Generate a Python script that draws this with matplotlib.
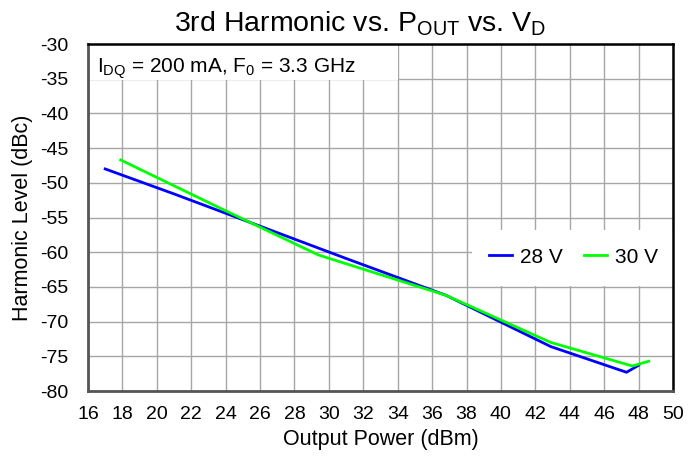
import matplotlib
matplotlib.use("Agg")
import matplotlib.pyplot as plt
from matplotlib.patches import Rectangle

# Output power (dBm) and 3rd harmonic level (dBc) for each drain voltage
pout_28v = [17.0, 21.0, 25.2, 31.0, 36.8, 42.9, 47.3, 48.0]
harm_28v = [-48.0, -51.6, -55.5, -60.9, -66.2, -73.6, -77.3, -76.3]
pout_30v = [17.9, 23.9, 29.4, 36.8, 42.9, 47.65, 48.6]
harm_30v = [-46.7, -53.9, -60.4, -66.2, -73.0, -76.4, -75.7]

x_ticks = list(range(16, 51, 2))
y_ticks = list(range(-80, -29, 5))

plt.rcParams['font.family'] = ['Liberation Sans', 'DejaVu Sans']
plt.rcParams['mathtext.fontset'] = 'custom'
plt.rcParams['mathtext.rm'] = 'Liberation Sans'
plt.rcParams['mathtext.it'] = 'Liberation Sans:italic'
plt.rcParams['axes.unicode_minus'] = False

fig = plt.figure(figsize=(7, 4.57), dpi=100)
ax = fig.add_axes([0.1257, 0.1444, 0.8357, 0.7593])

ax.plot(pout_28v, harm_28v, color='#0000ff', lw=2, label='28 V', zorder=4)
ax.plot(pout_30v, harm_30v, color='#00ff00', lw=2, label='30 V', zorder=4)

ax.set_xlim(16, 50)
ax.set_ylim(-80, -30)
ax.set_xticks(x_ticks)
ax.set_yticks(y_ticks)
ax.grid(True, color='#a6a6a6', lw=1)
ax.set_axisbelow(True)
ax.tick_params(length=0, labelsize=14)
ax.tick_params(axis='y', pad=14)
ax.tick_params(axis='x', pad=11)

for side in ['left', 'bottom']:
    ax.spines[side].set_color('#555555')
    ax.spines[side].set_linewidth(2)
for side in ['top', 'right']:
    ax.spines[side].set_color('black')
    ax.spines[side].set_linewidth(1.8)

# white boxes behind the note and the legend
ax.add_patch(Rectangle((16, -35.15), 18, 5.15, facecolor='white', edgecolor='none', zorder=2))
ax.add_patch(Rectangle((38.3, -64.8), 11.7, 8.0, facecolor='white', edgecolor='none', zorder=2))

ax.text(16.55, -34.1, r'I$_\mathrm{DQ}$ = 200 mA, F$_\mathrm{0}$ = 3.3 GHz',
        fontsize=15, va='baseline', ha='left', zorder=5)

ax.legend(loc='center', bbox_to_anchor=(0.83, 0.386), ncol=2, frameon=False,
          fontsize=15, handlelength=1.1, handletextpad=0.4, columnspacing=1.0)

ax.set_xlabel('Output Power (dBm)', fontsize=15.5, labelpad=4)
ax.set_ylabel('Harmonic Level (dBc)', fontsize=15.5, labelpad=5)

fig.text(0.515, 0.93, r'3rd Harmonic vs. P$_\mathrm{OUT}$ vs. V$_\mathrm{D}$',
         fontsize=20.5, ha='center', va='baseline')

fig.savefig('out.png', dpi=100)
